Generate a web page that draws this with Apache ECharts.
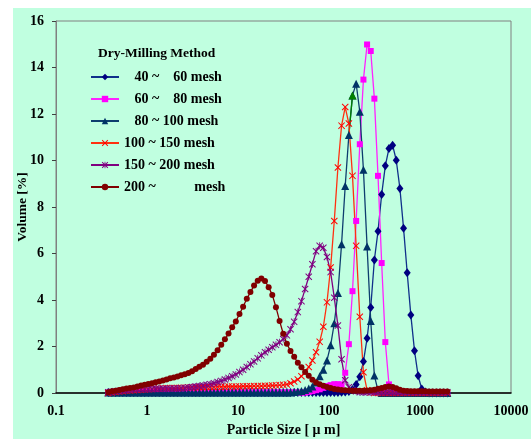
<!DOCTYPE html>
<html>
<head>
<meta charset="utf-8">
<style>
html, body { margin: 0; padding: 0; background: #fff; }
#chart { position: absolute; left: 13px; top: 8px; width: 518px; height: 431px; background: #c0ffe0; }
</style>
</head>
<body>
<div id="chart"></div>
<script src="https://cdn.jsdelivr.net/npm/echarts@6/dist/echarts.min.js"></script>
<script>
// particle size bins (um)
var sizes = [
    0.375, 0.411, 0.451, 0.495, 0.542, 0.595, 0.652, 0.715, 0.784, 0.860,
    0.943, 1.034, 1.134, 1.244, 1.364, 1.496, 1.640, 1.799, 1.973, 2.163,
    2.372, 2.602, 2.853, 3.129, 3.431, 3.763, 4.127, 4.525, 4.963, 5.442,
    5.968, 6.545, 7.178, 7.871, 8.632, 9.466, 10.38, 11.38, 12.49, 13.69,
    15.01, 16.47, 18.06, 19.80, 21.72, 23.81, 26.12, 28.64, 31.41, 34.44,
    37.77, 41.42, 45.42, 49.81, 54.63, 59.90, 65.69, 72.04, 79.00, 86.64,
    95.01, 104.2, 114.3, 125.3, 137.4, 150.7, 165.3, 181.2, 198.8, 218.0,
    239.0, 262.1, 287.5, 315.2, 345.7, 379.1, 415.8, 456.0, 500.0, 548.3,
    601.3, 659.4, 723.2, 793.1, 869.7, 953.8, 1046, 1147, 1258, 1379,
    1513, 1659, 1819, 1995
];
var xTickLabels = ['0.1', '1', '10', '100', '1000', '10000'];

// volume %
var mesh40 = [
    0.02, 0.02, 0.02, 0.02, 0.02, 0.02, 0.02, 0.02, 0.02, 0.02,
    0.02, 0.02, 0.02, 0.02, 0.02, 0.02, 0.02, 0.02, 0.02, 0.02,
    0.02, 0.02, 0.02, 0.02, 0.02, 0.02, 0.02, 0.02, 0.02, 0.02,
    0.02, 0.02, 0.02, 0.02, 0.02, 0.02, 0.02, 0.02, 0.02, 0.02,
    0.02, 0.02, 0.02, 0.02, 0.02, 0.02, 0.02, 0.02, 0.02, 0.02,
    0.02, 0.02, 0.02, 0.02, 0.02, 0.02, 0.02, 0.02, 0.02, 0.02,
    0.02, 0.02, 0.02, 0.02, 0.03, 0.04, 0.06, 0.15, 0.37, 0.70,
    1.35, 2.35, 3.68, 5.72, 6.96, 8.54, 9.77, 10.52, 10.66, 10.01,
    8.80, 7.09, 5.17, 3.35, 1.82, 0.74, 0.17, 0.04, 0, 0,
    0, 0, 0, 0
];
var mesh60 = [
    0.02, 0.02, 0.02, 0.02, 0.02, 0.02, 0.02, 0.02, 0.02, 0.02,
    0.02, 0.02, 0.02, 0.02, 0.02, 0.02, 0.02, 0.02, 0.02, 0.02,
    0.02, 0.02, 0.02, 0.02, 0.02, 0.02, 0.02, 0.02, 0.02, 0.02,
    0.02, 0.02, 0.02, 0.02, 0.02, 0.02, 0.02, 0.02, 0.02, 0.02,
    0.02, 0.02, 0.02, 0.02, 0.02, 0.02, 0.02, 0.02, 0.02, 0.02,
    0.02, 0.02, 0.02, 0.02, 0.02, 0.05, 0.08, 0.12, 0.16, 0.22,
    0.30, 0.34, 0.38, 0.38, 0.36, 0.87, 2.10, 4.38, 7.40, 10.70,
    13.48, 14.99, 14.71, 12.66, 9.34, 5.59, 2.19, 0.37, 0.05, 0,
    0, 0, 0, 0, 0, 0, 0, 0, 0, 0,
    0, 0, 0, 0
];
var mesh80 = [
    0.02, 0.02, 0.02, 0.02, 0.02, 0.02, 0.02, 0.02, 0.02, 0.02,
    0.02, 0.02, 0.02, 0.02, 0.02, 0.02, 0.02, 0.02, 0.02, 0.02,
    0.02, 0.02, 0.02, 0.02, 0.02, 0.02, 0.02, 0.02, 0.02, 0.02,
    0.02, 0.02, 0.02, 0.02, 0.02, 0.02, 0.02, 0.02, 0.02, 0.02,
    0.02, 0.02, 0.02, 0.02, 0.02, 0.02, 0.02, 0.02, 0.02, 0.02,
    0.02, 0.04, 0.06, 0.09, 0.13, 0.19, 0.28, 0.45, 0.72, 1.00,
    1.40, 2.05, 3.00, 4.30, 6.40, 8.90, 11.10, 12.80, 13.30, 12.10,
    9.60, 6.30, 3.10, 0.75, 0.10, 0, 0, 0, 0, 0,
    0, 0, 0, 0, 0, 0, 0, 0, 0, 0,
    0, 0, 0, 0
];
var mesh100 = [
    0.00, 0.02, 0.04, 0.06, 0.08, 0.10, 0.11, 0.12, 0.13, 0.14,
    0.15, 0.16, 0.17, 0.18, 0.19, 0.20, 0.21, 0.21, 0.22, 0.22,
    0.23, 0.23, 0.24, 0.24, 0.25, 0.25, 0.25, 0.26, 0.26, 0.26,
    0.27, 0.27, 0.27, 0.28, 0.28, 0.28, 0.28, 0.29, 0.29, 0.29,
    0.30, 0.30, 0.30, 0.31, 0.31, 0.32, 0.33, 0.34, 0.35, 0.37,
    0.42, 0.49, 0.58, 0.72, 0.90, 1.12, 1.40, 1.75, 2.20, 2.85,
    3.90, 5.40, 7.40, 9.70, 11.50, 12.30, 11.59, 9.34, 6.33, 3.28,
    0.89, 0.12, 0.02, 0, 0, 0, 0, 0, 0, 0,
    0, 0, 0, 0, 0, 0, 0, 0, 0, 0,
    0, 0, 0, 0
];
var mesh150 = [
    0.03, 0.05, 0.07, 0.09, 0.11, 0.13, 0.14, 0.15, 0.16, 0.16,
    0.17, 0.17, 0.17, 0.18, 0.18, 0.18, 0.18, 0.19, 0.19, 0.19,
    0.20, 0.22, 0.24, 0.26, 0.28, 0.30, 0.32, 0.35, 0.38, 0.42,
    0.47, 0.52, 0.58, 0.65, 0.72, 0.80, 0.90, 1.00, 1.12, 1.24,
    1.36, 1.49, 1.62, 1.75, 1.86, 1.97, 2.07, 2.18, 2.32, 2.48,
    2.74, 3.06, 3.48, 3.95, 4.47, 5.00, 5.54, 6.10, 6.33, 6.25,
    5.85, 5.20, 4.10, 2.90, 1.45, 0.55, 0.25, 0.12, 0.07, 0.03,
    0.03, 0.03, 0.03, 0.03, 0.03, 0.03, 0.03, 0.03, 0.03, 0.03,
    0.03, 0.03, 0.03, 0.03, 0.03, 0.03, 0.03, 0.03, 0.03, 0.03,
    0.03, 0.03, 0.03, 0.03
];
var mesh200 = [
    0.03, 0.07, 0.10, 0.13, 0.16, 0.19, 0.21, 0.24, 0.28, 0.32,
    0.35, 0.39, 0.42, 0.46, 0.50, 0.54, 0.58, 0.63, 0.67, 0.71,
    0.76, 0.81, 0.86, 0.94, 1.03, 1.13, 1.21, 1.34, 1.47, 1.65,
    1.84, 2.08, 2.31, 2.56, 2.83, 3.08, 3.40, 3.71, 4.05, 4.34,
    4.62, 4.83, 4.93, 4.82, 4.55, 4.22, 3.69, 3.10, 2.55, 2.12,
    1.81, 1.56, 1.30, 1.11, 0.90, 0.74, 0.57, 0.45, 0.38, 0.31,
    0.26, 0.21, 0.17, 0.15, 0.13, 0.12, 0.11, 0.10, 0.10, 0.10,
    0.10, 0.11, 0.12, 0.14, 0.18, 0.22, 0.26, 0.28, 0.26, 0.20,
    0.14, 0.10, 0.09, 0.08, 0.08, 0.07, 0.07, 0.07, 0.06, 0.06,
    0.06, 0.06, 0.06, 0.06
];
var names = ['   40 ~    60 mesh', '   60 ~    80 mesh', '   80 ~ 100 mesh',
    '100 ~ 150 mesh', '150 ~ 200 mesh', '200 ~           mesh'];
// one point of the 80~100 curve is drawn green in the original
var greenIndex = 67;

var font = "'Liberation Serif', 'Times New Roman', serif";
var crossPath = 'path://M1,0L5,4L9,0L10,1L6,5L10,9L9,10L5,6L1,10L0,9L4,5L0,1Z';
var starPath = 'path://M1,0L5,4L9,0L10,1L6,5L10,9L9,10L5,6L1,10L0,9L4,5L0,1Z M4.4,0H5.6V10H4.4Z';

function pairs(vals) {
    return sizes.map(function (s, i) { return [s, vals[i]]; });
}

function lineSeries(name, vals, symbol, size, markColor, lineColor) {
    return {
        name: name,
        type: 'line',
        data: pairs(vals),
        symbol: symbol,
        symbolSize: size,
        showAllSymbol: true,
        itemStyle: { color: markColor },
        lineStyle: { color: lineColor, width: 1.3 },
        emphasis: { disabled: true }
    };
}

var greenData = [
    { value: [sizes[greenIndex - 1], mesh80[greenIndex - 1]], symbol: 'none' },
    [sizes[greenIndex], mesh80[greenIndex]]
];

var oChart = echarts.init(document.getElementById('chart'));
var option = {
    animation: false,
    title: {
        text: 'Dry-Milling Method',
        left: 85,
        top: 39,
        padding: 0,
        textStyle: { fontFamily: font, fontWeight: 'bold', fontSize: 13.5, color: '#000' }
    },
    legend: {
        data: names,
        orient: 'vertical',
        left: 77,
        top: 62,
        padding: 0,
        itemWidth: 28,
        itemHeight: 8,
        itemGap: 8,
        textStyle: { fontFamily: font, fontWeight: 'bold', fontSize: 14, color: '#000' }
    },
    grid: {
        left: 43,
        right: 20,
        top: 13,
        bottom: 46,
        outerBoundsMode: 'none',
        containLabel: false,
        show: true,
        borderColor: '#808080',
        borderWidth: 1
    },
    xAxis: {
        type: 'log',
        logBase: 10,
        min: 0.1,
        max: 10000,
        name: 'Particle Size [ μ m]',
        nameLocation: 'middle',
        nameGap: 30,
        nameMoveOverlap: false,
        nameTextStyle: { fontFamily: font, fontWeight: 'bold', fontSize: 14, color: '#000' },
        axisLine: { lineStyle: { color: '#000', width: 1.5 } },
        axisTick: { show: false },
        splitLine: { show: false },
        minorTick: { show: false },
        axisLabel: {
            margin: 11,
            fontFamily: font,
            fontWeight: 'bold',
            fontSize: 14,
            color: '#000',
            formatter: function (v) {
                return xTickLabels[Math.round(Math.log10(v)) + 1];
            }
        }
    },
    yAxis: {
        type: 'value',
        min: 0,
        max: 16,
        interval: 2,
        name: 'Volume [%]',
        nameLocation: 'middle',
        nameGap: 26,
        nameMoveOverlap: false,
        nameTextStyle: { fontFamily: font, fontWeight: 'bold', fontSize: 13.5, color: '#000' },
        axisLine: { show: true, lineStyle: { color: '#808080', width: 1 } },
        axisTick: { show: true, inside: false, length: 4, lineStyle: { color: '#404040' } },
        splitLine: { show: false },
        axisLabel: { margin: 12, fontFamily: font, fontWeight: 'bold', fontSize: 14, color: '#000' }
    },
    series: [
        lineSeries(names[0], mesh40, 'diamond', [7, 9], '#000080', '#10308a'),
        lineSeries(names[1], mesh60, 'rect', 6, '#ff00ff', '#ff22ff'),
        lineSeries(names[2], mesh80, 'triangle', 8, '#003366', '#0d3d6e'),
        {
            name: 'green',
            type: 'line',
            data: greenData,
            symbol: 'triangle',
            symbolSize: 8,
            itemStyle: { color: '#008000' },
            lineStyle: { color: '#008000', width: 1.3 },
            emphasis: { disabled: true }
        },
        lineSeries(names[3], mesh100, crossPath, 7, '#ff0000', '#ff3010'),
        lineSeries(names[4], mesh150, starPath, 7, '#800080', '#800080'),
        lineSeries(names[5], mesh200, 'circle', 6, '#800000', '#800000')
    ]
};
oChart.setOption(option);
</script>
</body>
</html>
